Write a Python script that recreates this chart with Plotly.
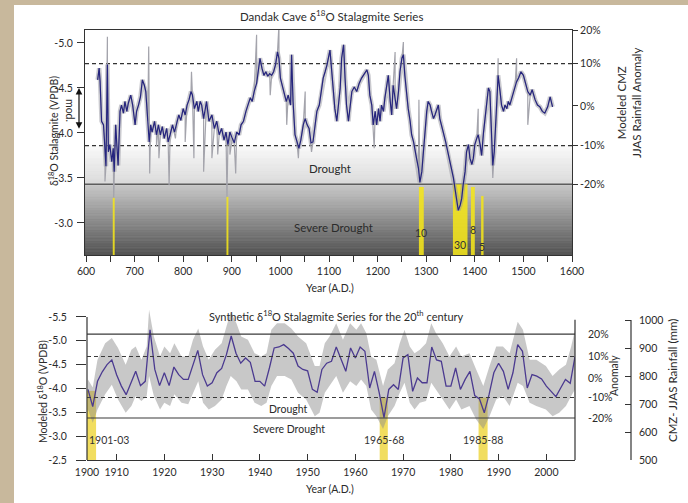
import plotly.graph_objects as go

W, H = 688, 503


def px(x):
    return x / W


def py(y):
    return 1 - y / H


# ---------------- Dandak Cave stalagmite record (A.D., permil VPDB) ----------------
dandak_years = [
    624, 627, 629, 632, 636, 639, 641, 644, 646, 649, 653, 656, 658, 661, 664, 666, 670, 673, 677, 680,
    684, 687, 692, 696, 701, 704, 708, 712, 716, 720, 723, 727, 730, 733, 736, 741, 745, 749, 753, 757,
    761, 766, 769, 773, 778, 782, 787, 791, 795, 800, 804, 808, 812, 816, 819, 823, 828, 831, 835, 838,
    842, 846,
    848, 853, 859, 864, 869, 874, 879, 884, 888, 892, 896, 901, 905, 910, 915, 919, 924, 929, 933, 938,
    942, 946, 951, 955, 958, 962, 966, 970, 974, 978, 982, 986, 990, 994, 997, 1000, 1004, 1008, 1012, 1016,
    1021, 1023, 1026, 1030, 1034, 1038, 1042, 1047, 1051, 1055, 1059, 1063, 1067, 1071, 1075, 1080, 1084, 1088, 1092, 1096,
    1102, 1106, 1109, 1112, 1116, 1119, 1123, 1126, 1130, 1133, 1136, 1140, 1143, 1147, 1152, 1157, 1162, 1167, 1173, 1178,
    1181, 1184, 1188, 1191, 1195, 1198, 1202, 1205, 1208, 1212, 1215, 1219, 1222, 1226, 1229, 1232, 1236, 1239, 1243, 1246,
    1250, 1253, 1256, 1260, 1263, 1267, 1270, 1274, 1277, 1280, 1284, 1287, 1291, 1294, 1298, 1301, 1304, 1308, 1311, 1315,
    1318, 1322, 1325, 1328, 1332, 1335, 1340,
    1347, 1351, 1356, 1359, 1363, 1366, 1370, 1373, 1376, 1380, 1383, 1387, 1390, 1394, 1397, 1400, 1404, 1407, 1411, 1414,
    1418, 1421, 1424, 1428, 1431, 1435, 1437, 1440, 1443, 1446, 1448, 1452, 1455, 1459, 1462, 1466, 1469, 1472, 1476, 1479,
    1483, 1486, 1490, 1495, 1500, 1505, 1509, 1514, 1518, 1524, 1529, 1534, 1539, 1544, 1550, 1555, 1560,
]
dandak_d18o = [
    -4.59, -4.72, -4.57, -4.13, -4.09, -3.87, -3.63, -4.76, -3.79, -3.87, -3.68, -3.83, -3.57, -4.09, -3.76, -3.64, -4.24, -4.31, -4.22, -4.35,
    -4.24, -4.33, -4.42, -4.31, -4.09, -4.24, -4.31, -4.40, -4.59, -4.53, -4.46, -4.13, -3.90, -4.09, -4.01, -4.13, -3.98, -4.09, -3.98, -4.07,
    -3.94, -4.05, -3.90, -3.98, -4.09, -4.01, -4.13, -4.20, -4.14, -4.27, -4.20, -4.31, -4.37, -4.46, -4.42, -4.27, -4.35, -4.24, -4.35, -4.31,
    -4.16, -4.27,
    -4.35, -4.13, -4.20, -4.05, -4.13, -3.98, -4.05, -3.92, -4.01, -3.87, -4.01, -3.94, -3.89, -4.01, -3.98, -4.09, -4.13, -4.24, -4.31, -4.39,
    -4.35, -4.46, -4.55, -4.72, -4.83, -4.72, -4.64, -4.68, -4.63, -4.66, -4.64, -4.68, -4.76, -4.90, -4.83, -4.61, -4.53, -4.46, -4.35, -4.42,
    -4.31, -4.87, -4.35, -3.98, -3.90, -3.83, -3.92, -4.09, -4.16, -4.09, -4.05, -3.89, -3.90, -4.09, -4.24, -4.31, -4.46, -4.61, -4.68, -4.76,
    -4.92, -4.64, -4.50, -4.27, -4.13, -4.27, -4.50, -4.83, -4.98, -4.61, -4.31, -4.13, -4.31, -4.46, -4.51, -4.46, -4.55, -4.61, -4.66, -4.70,
    -4.64, -4.42, -4.31, -4.09, -4.24, -4.09, -4.27, -4.13, -4.31, -4.24, -4.39, -4.53, -4.64, -4.35, -4.20, -4.53, -4.39, -4.27, -4.46, -4.68,
    -4.83, -4.87, -4.64, -4.42, -4.27, -4.13, -3.98, -3.90, -3.79, -3.72, -3.61, -3.45, -3.57, -3.79, -4.01, -4.24, -4.35, -4.31, -4.24, -4.16,
    -4.20, -4.27, -4.31, -4.16, -4.09, -4.01, -3.90,
    -3.72, -3.64, -3.50, -3.39, -3.27, -3.14, -3.20, -3.27, -3.42, -3.57, -3.79, -3.87, -3.72, -3.65, -3.72, -3.87, -3.94, -3.98, -3.87, -3.75,
    -4.01, -4.16, -4.35, -4.50, -4.46, -3.87, -3.64, -3.79, -4.09, -4.31, -4.64, -4.46, -4.31, -4.24, -4.31, -4.27, -4.35, -4.31, -4.39, -4.46,
    -4.53, -4.57, -4.61, -4.68, -4.64, -4.53, -4.46, -4.42, -4.48, -4.37, -4.31, -4.29, -4.24, -4.22, -4.29, -4.40, -4.29,
]

# single raw samples that stand out from the smoothed record
spike_years = [639, 644, 657, 729, 731, 745, 750, 771, 784, 804, 817, 822, 842, 859, 871, 890, 896, 908,
               951, 979, 997, 1013, 1037, 1051, 1064, 1193, 1236, 1253, 1285, 1407, 1437, 1448, 1486, 1509]
spike_d18o = [-3.46, -5.07, -3.28, -4.96, -3.55, -3.85, -3.72, -3.42, -3.94, -3.90, -4.68, -3.72, -3.57, -3.72, -3.76, -3.29, -3.76, -3.55,
              -5.09, -4.42, -5.20, -4.09, -3.72, -4.46, -3.79, -3.83, -4.90, -5.01, -4.37, -4.27, -3.50, -4.83, -4.83, -4.09]

# severe drought events: start year, duration (years), upper edge of the marker
event_start = [655, 889, 1285, 1355, 1392, 1413]
event_years = [4, 4, 10, 30, 8, 5]
event_top = [-3.28, -3.29, -3.40, -3.43, -3.40, -3.30]
event_labelled = [False, False, True, True, True, True]

# rainfall anomaly thresholds on the d18O scale
anomaly_pct = [20, 10, 0, -10, -20]
anomaly_d18o = [-5.144, -4.77, -4.30, -3.86, -3.43]

# ---------------- Synthetic 20th-century series ----------------
synth_years = list(range(1904, 2007))
synth_d18o = [
    -3.98, -3.62, -4.15, -4.35, -4.50, -4.60, -4.29, -4.05, -3.87, -4.12,
    -4.36, -4.06, -4.15, -5.23, -4.40, -4.06, -4.33, -4.06, -4.45, -4.29,
    -4.19, -4.19, -4.50, -4.80, -4.29, -4.05, -4.12, -4.33, -4.42, -4.71,
    -5.10, -4.74, -4.53, -4.64, -4.55, -4.15, -4.15, -4.05, -4.43, -4.85,
    -4.87, -4.92, -4.84, -4.74, -4.47, -4.40, -4.37, -3.98, -3.92, -4.40,
    -4.53, -4.57, -4.87, -4.60, -4.36, -4.85, -4.64, -4.87, -4.78, -4.01,
    -4.36, -3.91, -3.39, -3.98, -4.08, -3.98, -4.64, -4.71, -3.94, -4.22,
    -4.12, -4.12, -4.87, -4.60, -4.57, -4.05, -4.05, -4.43, -3.98, -4.19,
    -4.36, -3.85, -3.78, -3.49, -3.87, -4.33, -4.53, -4.36, -3.98, -4.33,
    -4.92, -4.78, -4.01, -4.29, -4.26, -4.20, -4.05, -3.94, -3.83, -4.01,
    -4.19, -4.11, -4.67,
]
band_years = [1904, 1905, 1906, 1907.6, 1909, 1910.3, 1911.9, 1913.1, 1914, 1915.2, 1916.3, 1916.8, 1917.8, 1919.1,
              1920, 1921.2, 1922.1, 1923.6, 1925, 1926, 1927.1, 1928.1, 1929.3, 1930.6, 1932, 1933, 1933.9, 1935.1,
              1936.1, 1937.5, 1938.9, 1940.3, 1941.4, 1942.4, 1943.6, 1945.2, 1946.6, 1948, 1949.7, 1951.5, 1952.5,
              1953.6, 1954.6, 1956, 1957.4, 1958.9, 1960.2, 1961.2, 1962.3, 1963.3, 1964.4, 1965.8, 1966.8, 1968.2,
              1969.3, 1970.3, 1971.4, 1972.4, 1973.5, 1974.8, 1975.9, 1976.9, 1978.3, 1979.7, 1981.1, 1982.2, 1983.9,
              1985.3, 1986.8, 1988.1, 1989.5, 1990.9, 1992.3, 1994, 1995.1, 1996.5, 1997.9, 1999.9, 2001.3, 2002.7,
              2004.1, 2005.2, 2006]
band_upper = [-4.19, -4.02, -4.60, -4.95, -5.06, -4.85, -4.50, -4.81, -4.88, -4.60, -4.88, -5.65, -5.09, -4.67,
              -4.88, -4.74, -4.95, -4.67, -4.67, -5.02, -5.26, -4.88, -4.60, -4.81, -4.95, -5.30, -5.61, -5.37,
              -5.09, -5.02, -4.74, -4.67, -4.74, -5.23, -5.37, -5.37, -5.26, -5.09, -4.95, -4.47, -4.47,
              -4.95, -5.09, -5.37, -5.02, -5.37, -5.23, -5.37, -5.16, -4.67, -4.60, -4.05, -4.40, -4.53,
              -4.95, -5.23, -4.88, -4.74, -4.81, -4.95, -5.37, -5.16, -4.95, -4.67, -4.88, -4.67, -4.74,
              -4.40, -4.05, -4.47, -4.88, -4.88, -4.74, -5.40, -5.23, -4.60, -4.60, -4.47, -4.26, -4.40,
              -4.50, -4.88, -5.23]
band_lower = [-3.56, -3.28, -3.56, -3.88, -4.08, -3.77, -3.49, -3.63, -3.84, -3.74, -3.84, -4.26, -3.84, -3.56,
              -3.70, -3.63, -3.88, -3.70, -3.67, -3.91, -4.15, -3.70, -3.56, -3.63, -3.77, -4.05, -4.26, -4.15,
              -3.98, -3.98, -3.70, -3.63, -3.70, -4.05, -4.26, -4.26, -4.19, -3.91, -3.77, -3.42, -3.49,
              -3.91, -4.05, -4.26, -3.91, -4.15, -4.05, -4.19, -4.05, -3.56, -3.42, -3.15, -3.42, -3.63,
              -3.91, -4.12, -3.70, -3.56, -3.70, -3.74, -4.12, -3.98, -3.77, -3.56, -3.77, -3.56, -3.63,
              -3.35, -3.15, -3.42, -3.77, -3.84, -3.63, -4.12, -4.05, -3.70, -3.63, -3.56, -3.42, -3.49,
              -3.63, -3.84, -3.98]

# drought years highlighted in the synthetic series
synth_event_start = [1903.8, 1965.1, 1985.8]
synth_event_end = [1905.7, 1966.8, 1987.7]
synth_event_top = [-3.95, -3.81, -3.81]
synth_event_label = ["1901-03", "1965-68", "1985-88"]

synth_levels = [-5.14, -4.67, -4.21, -3.81, -3.38]
synth_pct = [20, 10, 0, -10, -20]
rain_mm = [500, 600, 700, 800, 900, 1000]

# ---------------- styling ----------------
FONT = "Lato"
TXT = "#2b2b2b"
TOP_Y = [-2.644, -5.144]
BOT_Y = [-2.5, -5.667]
RAIN_RANGE = [500, 1039.3]

shapes = []

# page: beige backdrop with a white sheet
shapes.append(dict(type="rect", xref="paper", yref="paper", x0=px(14), x1=1.01, y0=-0.01, y1=py(5),
                   fillcolor="white", line=dict(width=0), layer="below"))


def grey(c0, c1, t):
    v = round(c0 + (c1 - c0) * t)
    return f"rgb({v},{v},{v})"


def gradient(y_top, y_bot, c_top, c_bot, n):
    for i in range(n):
        a = y_top + (y_bot - y_top) * i / n
        b = y_top + (y_bot - y_top) * (i + 1) / n
        col = grey(c_top, c_bot, (i + 0.5) / n)
        shapes.append(dict(type="rect", xref="x domain", yref="y", x0=0, x1=1, y0=a, y1=b,
                           fillcolor=col, line=dict(width=0.8, color=col), layer="below"))


# drought / severe drought shading
gradient(anomaly_d18o[3], anomaly_d18o[4], 250, 218, 20)
gradient(anomaly_d18o[4], TOP_Y[0], 202, 82, 45)

# drought events (top panel)
for s, dur, top in zip(event_start, event_years, event_top):
    shapes.append(dict(type="rect", xref="x", yref="y", x0=s, x1=s + dur, y0=top, y1=TOP_Y[0],
                       fillcolor="#f4e51a", opacity=0.88, line=dict(width=0), layer="below"))

# threshold lines (top panel)
for lvl, dash, col, wid in [(anomaly_d18o[1], "4px,3px", "#333333", 1.2),
                            (anomaly_d18o[3], "4px,3px", "#333333", 1.2),
                            (anomaly_d18o[4], "solid", "#5e5e5e", 1.6)]:
    shapes.append(dict(type="line", xref="x domain", yref="y", x0=0, x1=1, y0=lvl, y1=lvl,
                       line=dict(color=col, width=wid, dash=dash), layer="below"))

# drought events (bottom panel)
for s, e, top in zip(synth_event_start, synth_event_end, synth_event_top):
    shapes.append(dict(type="rect", xref="x2", yref="y3", x0=s, x1=e, y0=top, y1=BOT_Y[0],
                       fillcolor="#f0d94e", opacity=0.9, line=dict(width=0), layer="below"))

# threshold lines (bottom panel)
for i, dash in [(0, "solid"), (1, "4px,3px"), (3, "4px,3px"), (4, "solid")]:
    lvl = synth_levels[i]
    shapes.append(dict(type="line", xref="x2 domain", yref="y3", x0=0, x1=1, y0=lvl, y1=lvl,
                       line=dict(color="#3a3a3a", width=1.1, dash=dash), layer="above"))

# bottom panel frame lines and rainfall axis line
shapes.append(dict(type="line", xref="x2 domain", yref="y3", x0=0, x1=0, y0=-2.5, y1=-5.5,
                   line=dict(color="#333333", width=1.2)))
shapes.append(dict(type="line", xref="x2 domain", yref="y3", x0=1, x1=1, y0=-2.5, y1=-5.44,
                   line=dict(color="#333333", width=1.2)))
shapes.append(dict(type="line", xref="paper", yref="y5", x0=px(631), x1=px(631), y0=500, y1=1000,
                   line=dict(color="#333333", width=1.2)))

# ---------------- traces ----------------
raw = sorted(zip(dandak_years + spike_years, dandak_d18o + spike_d18o))
raw_years = [r[0] for r in raw]
raw_d18o = [r[1] for r in raw]

traces = [
    go.Scatter(x=dandak_years, y=dandak_d18o, mode="lines", xaxis="x", yaxis="y",
               line=dict(color="rgba(150,150,160,0.5)", width=4.5), hoverinfo="skip"),
    go.Scatter(x=raw_years, y=raw_d18o, mode="lines", xaxis="x", yaxis="y",
               line=dict(color="#a4a4ac", width=1.2)),
    go.Scatter(x=dandak_years, y=dandak_d18o, mode="lines", xaxis="x", yaxis="y",
               line=dict(color="#25247e", width=1.2)),
    go.Scatter(x=[], y=[], xaxis="x", yaxis="y2"),
    go.Scatter(x=band_years, y=band_upper, mode="lines", xaxis="x2", yaxis="y3",
               line=dict(width=0), hoverinfo="skip"),
    go.Scatter(x=band_years, y=band_lower, mode="lines", xaxis="x2", yaxis="y3",
               line=dict(width=0), fill="tonexty", fillcolor="rgba(140,140,140,0.48)", hoverinfo="skip"),
    go.Scatter(x=synth_years, y=synth_d18o, mode="lines", xaxis="x2", yaxis="y3",
               line=dict(color="#4b3a90", width=1.3)),
    go.Scatter(x=[], y=[], xaxis="x2", yaxis="y4"),
    go.Scatter(x=[], y=[], xaxis="x2", yaxis="y5"),
]

fig = go.Figure(traces)

tick_font = dict(family=FONT, size=10.5, color=TXT)


def d(v):
    return f"{v:.1f}"


axis_common = dict(showgrid=False, zeroline=False, tickfont=tick_font, tickcolor="#333333", automargin=False)

fig.update_layout(
    width=W, height=H, autosize=False,
    margin=dict(l=0, r=0, t=0, b=0, pad=0, autoexpand=False),
    paper_bgcolor="#c8b89c", plot_bgcolor="rgba(0,0,0,0)",
    showlegend=False,
    font=dict(family=FONT, color=TXT),
    xaxis=dict(domain=[px(85), px(572)], range=[597.9, 1600], anchor="y",
               showline=True, mirror=True, linecolor="#333333", linewidth=1.2,
               ticks="outside", ticklen=6, tickvals=list(range(600, 1601, 100)),
               ticktext=[str(v) for v in range(600, 1601, 100)],
               minor=dict(tickvals=list(range(650, 1600, 100)), ticks="outside", ticklen=6, tickcolor="#333333"),
               **axis_common),
    yaxis=dict(domain=[py(255), py(30)], range=TOP_Y, anchor="x",
               showline=True, mirror=True, linecolor="#333333", linewidth=1.2,
               ticks="outside", ticklen=7, ticklabelstandoff=2, tickvals=[-5.0, -4.5, -4.0, -3.5, -3.0],
               ticktext=[d(v) for v in [-5.0, -4.5, -4.0, -3.5, -3.0]], **axis_common),
    yaxis2=dict(overlaying="y", anchor="x", side="right", range=TOP_Y,
                ticks="outside", ticklen=5, tickvals=anomaly_d18o,
                ticktext=[f"{p}%" for p in anomaly_pct], showline=False, **axis_common),
    xaxis2=dict(domain=[px(87), px(575)], range=[1903.8, 2006], anchor="y3",
                showline=True, linecolor="#333333", linewidth=1.2,
                ticks="inside", ticklen=6, ticklabelstandoff=2,
                tickvals=[1903.8] + list(range(1910, 2001, 10)),
                ticktext=["1900"] + [str(v) for v in range(1910, 2001, 10)], **axis_common),
    yaxis3=dict(domain=[py(460), py(309)], range=BOT_Y, anchor="x2", showline=False,
                ticks="outside", ticklen=10, ticklabelstandoff=7,
                tickvals=[-5.5, -5.0, -4.5, -4.0, -3.5, -3.0, -2.5],
                ticktext=[d(v) for v in [-5.5, -5.0, -4.5, -4.0, -3.5, -3.0, -2.5]], **axis_common),
    yaxis4=dict(overlaying="y3", anchor="x2", side="right", range=BOT_Y, showline=False,
                ticks="", ticklabelstandoff=12, tickvals=synth_levels,
                ticktext=[f"{p}%" for p in synth_pct], **axis_common),
    yaxis5=dict(overlaying="y3", anchor="free", position=px(631), side="right", range=RAIN_RANGE,
                showline=False, ticks="inside", ticklen=6, ticklabelstandoff=7,
                tickvals=rain_mm, ticktext=[str(v) for v in rain_mm], **axis_common),
    shapes=shapes,
)

ann = []


def note(text, x, y, size=10.5, angle=0, color=TXT):
    ann.append(dict(text=text, x=px(x), y=py(y), xref="paper", yref="paper",
                    showarrow=False, textangle=angle, xanchor="center", yanchor="middle",
                    font=dict(family=FONT, size=size, color=color)))


# top panel text
note("Dandak Cave δ<sup>18</sup>O Stalagmite Series", 331, 15, size=11.5)
note("Drought", 330, 169, size=11.5)
note("Severe Drought", 333, 227, size=11.5)
note("Year (A.D.)", 330, 288, size=10.5)
note("δ<sup>18</sup>O Stalagmite (VPDB)", 53, 131, size=10.5, angle=-90)
note("Modeled CMZ<br>JJAS Rainfall Anomaly", 629, 103, size=11.5, angle=-90)
note("mod.", 70, 110, size=10.5, angle=90)

# durations written next to the event markers
label_depth = {1285: -2.89, 1355: -2.76, 1392: -2.92, 1413: -2.73}
for s, dur, lab in zip(event_start, event_years, event_labelled):
    if lab:
        ann.append(dict(text=str(dur), x=s + dur / 2, y=label_depth[s], xref="x", yref="y", showarrow=False,
                        font=dict(family=FONT, size=10.5, color="#333333")))

# double-headed arrow for the modern range
ann.append(dict(text="", x=px(79), y=-4.5, xref="paper", yref="y", ax=0, ay=-4.03, axref="pixel", ayref="y",
                showarrow=True, arrowside="end+start", arrowhead=2, arrowsize=1.1, arrowwidth=1.2,
                arrowcolor="#111111", standoff=0, startstandoff=0))

# bottom panel text
note("Synthetic δ<sup>18</sup>O Stalagmite Series for the 20<sup>th</sup> century", 336, 315, size=11)
note("Drought", 288, 409, size=10.5)
note("Severe Drought", 289, 429, size=10.5)
note("Year (A.D.)", 330, 489, size=10.5)
note("Modeled δ<sup>18</sup>O (VPDB)", 42, 392, size=10.5, angle=-90)
note("Anomaly", 614, 376, size=10.5, angle=-90)
note("CMZ- JJAS Rainfall (mm)", 672, 381, size=11.5, angle=-90)
for lab, s, e in zip(synth_event_label, synth_event_start, synth_event_end):
    first = lab == synth_event_label[0]
    ann.append(dict(text=lab, x=s if first else (s + e) / 2, xanchor="left" if first else "center",
                    y=-2.93, xref="x2", yref="y3", showarrow=False,
                    font=dict(family=FONT, size=10.5, color="#333333")))

fig.update_layout(annotations=ann)
fig.write_html("out.html")
